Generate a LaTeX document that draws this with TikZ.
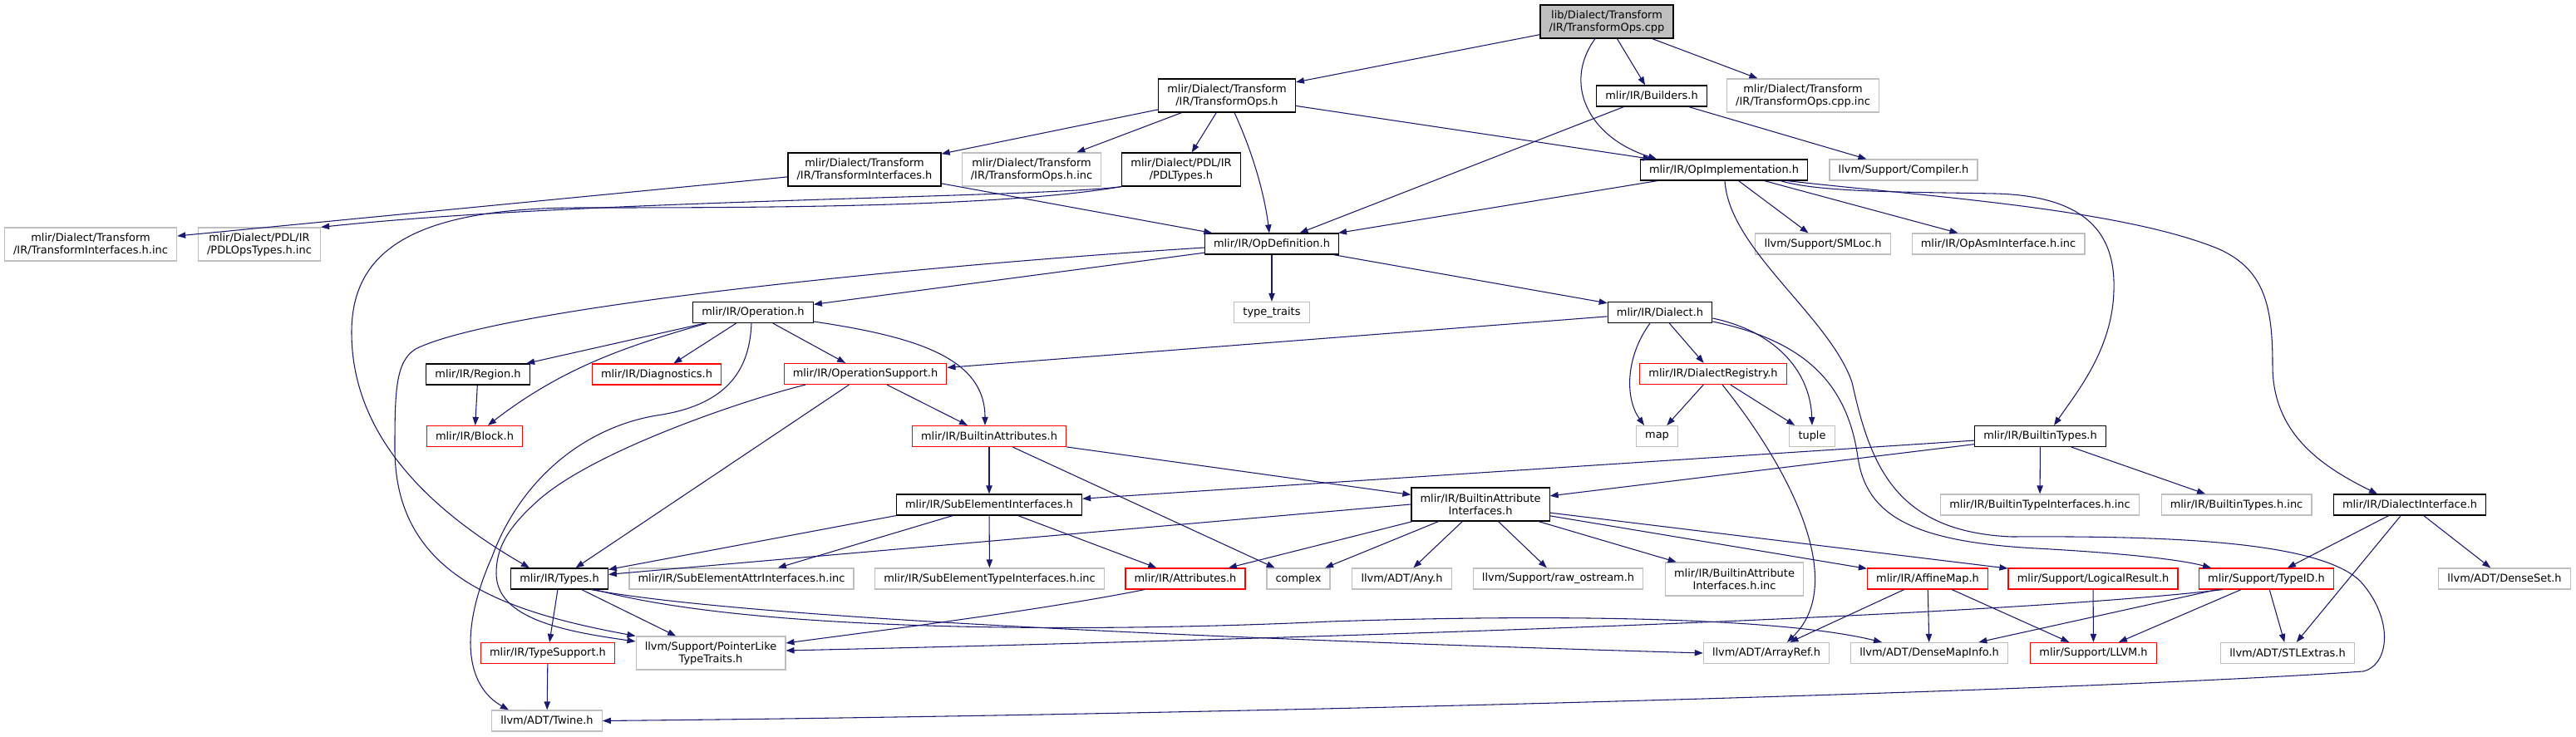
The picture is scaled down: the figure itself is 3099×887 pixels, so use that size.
\documentclass[tikz,border=0pt]{standalone}
\usepackage{fontspec}
\setmainfont{DejaVu Sans}
\usetikzlibrary{arrows.meta}

\definecolor{edgeblue}{HTML}{191970}
\definecolor{extgray}{HTML}{BFBFBF}
\definecolor{cutred}{HTML}{FF0000}

\begin{document}
\begin{tikzpicture}[x=0.75pt,y=-0.75pt,
    file/.style={rectangle,line width=0.9pt,align=center,inner xsep=8pt,inner ysep=4.5pt,
        minimum height=18.75pt,font={\fontsize{9.7}{11.25}\selectfont}},
    doc/.style={file,draw=black},
    ext/.style={file,draw=extgray},
    cut/.style={file,draw=cutred},
    tall/.style={minimum height=30pt},
    inc/.style={edgeblue,line width=0.8pt,-{Triangle[length=7.5pt,width=5.5pt]}}]
    \useasboundingbox (0,0) rectangle (3099,887);

    % source file and first level
    \node[doc,tall,fill=extgray] (cpp) at (1933,26) {lib/Dialect/Transform\\/IR/TransformOps.cpp};
    \node[doc,tall] (opsh) at (1476,115) {mlir/Dialect/Transform\\/IR/TransformOps.h};
    \node[doc] (builders) at (1987,115.5) {mlir/IR/Builders.h};
    \node[ext,tall] (cppinc) at (2169,115) {mlir/Dialect/Transform\\/IR/TransformOps.cpp.inc};

    % transform headers
    \node[doc,tall] (tiface) at (1040,204) {mlir/Dialect/Transform\\/IR/TransformInterfaces.h};
    \node[ext,tall] (opsinc) at (1241,204) {mlir/Dialect/Transform\\/IR/TransformOps.h.inc};
    \node[doc,tall] (pdltypes) at (1421,204) {mlir/Dialect/PDL/IR\\/PDLTypes.h};
    \node[doc] (opimpl) at (2074,204.5) {mlir/IR/OpImplementation.h};
    \node[ext] (compiler) at (2290,204.5) {llvm/Support/Compiler.h};

    \node[ext,tall] (tifaceinc) at (109,294) {mlir/Dialect/Transform\\/IR/TransformInterfaces.h.inc};
    \node[ext,tall] (pdlinc) at (312,294) {mlir/Dialect/PDL/IR\\/PDLOpsTypes.h.inc};
    \node[doc] (opdef) at (1530,293.5) {mlir/IR/OpDefinition.h};
    \node[ext] (smloc) at (2193,293.5) {llvm/Support/SMLoc.h};
    \node[ext] (asminc) at (2404,293.5) {mlir/IR/OpAsmInterface.h.inc};

    % core IR
    \node[doc] (operation) at (906,376) {mlir/IR/Operation.h};
    \node[ext] (typetraits) at (1530,376) {type\_traits};
    \node[doc] (dialect) at (1997,376) {mlir/IR/Dialect.h};

    \node[doc] (region) at (575,450.5) {mlir/IR/Region.h};
    \node[cut] (diag) at (790,450.5) {mlir/IR/Diagnostics.h};
    \node[cut] (opsupport) at (1041,450) {mlir/IR/OperationSupport.h};
    \node[cut] (registry) at (2061,450) {mlir/IR/DialectRegistry.h};

    \node[cut] (block) at (571,525) {mlir/IR/Block.h};
    \node[cut] (battrs) at (1190,525) {mlir/IR/BuiltinAttributes.h};
    \node[ext] (map) at (1993.5,525) {map};
    \node[ext] (tuple) at (2180,525) {tuple};
    \node[doc] (btypes) at (2454.5,525) {mlir/IR/BuiltinTypes.h};

    \node[doc] (subelem) at (1190,607.5) {mlir/IR/SubElementInterfaces.h};
    \node[doc,tall] (bai) at (1781,607) {mlir/IR/BuiltinAttribute\\Interfaces.h};
    \node[ext] (btiinc) at (2454,607.5) {mlir/IR/BuiltinTypeInterfaces.h.inc};
    \node[ext] (btinc) at (2690.5,607.5) {mlir/IR/BuiltinTypes.h.inc};
    \node[doc] (diface) at (2899,607.5) {mlir/IR/DialectInterface.h};

    % leaves
    \node[doc] (types) at (673,696.5) {mlir/IR/Types.h};
    \node[ext] (seattrinc) at (892,696.5) {mlir/IR/SubElementAttrInterfaces.h.inc};
    \node[ext] (setypeinc) at (1190.5,696.5) {mlir/IR/SubElementTypeInterfaces.h.inc};
    \node[cut] (attrs) at (1426,696.5) {mlir/IR/Attributes.h};
    \node[ext] (complex) at (1562,696.5) {complex};
    \node[ext] (any) at (1686.5,696.5) {llvm/ADT/Any.h};
    \node[ext] (ostream) at (1874.5,696.5) {llvm/Support/raw\_ostream.h};
    \node[ext,tall] (baiinc) at (2086.5,697) {mlir/IR/BuiltinAttribute\\Interfaces.h.inc};
    \node[cut] (affine) at (2319,696.5) {mlir/IR/AffineMap.h};
    \node[cut] (logical) at (2518,696.5) {mlir/Support/LogicalResult.h};
    \node[cut] (typeid) at (2726.5,696.5) {mlir/Support/TypeID.h};
    \node[ext] (denseset) at (3013,696.5) {llvm/ADT/DenseSet.h};

    \node[cut] (typesupport) at (659,786) {mlir/IR/TypeSupport.h};
    \node[ext,tall] (ptrlike) at (855,786) {llvm/Support/PointerLike\\TypeTraits.h};
    \node[ext] (arrayref) at (2125,786) {llvm/ADT/ArrayRef.h};
    \node[ext] (densemap) at (2321,786) {llvm/ADT/DenseMapInfo.h};
    \node[cut] (llvm) at (2518.5,786) {mlir/Support/LLVM.h};
    \node[ext] (stlextras) at (2752,786) {llvm/ADT/STLExtras.h};

    \node[ext] (twine) at (658,867.5) {llvm/ADT/Twine.h};

    % TransformOps.cpp
    \draw[inc] (cpp) -- (opsh);
    \draw[inc] (cpp) -- (builders);
    \draw[inc] (cpp) -- (cppinc);
    \draw[inc] (cpp.south -| 1919,0) .. controls (1880,100) and (1910,165) .. (opimpl.north -| 1993,0);

    % TransformOps.h
    \draw[inc] (opsh) -- (tiface);
    \draw[inc] (opsh) -- (opsinc);
    \draw[inc] (opsh) -- (pdltypes);
    \draw[inc] (opsh) -- (opimpl);
    \draw[inc] (opsh.south -| 1485,0) .. controls (1510,190) and (1522,240) .. (opdef.north -| 1527,0);

    % Builders.h
    \draw[inc] (builders) -- (opdef);
    \draw[inc] (builders) -- (compiler);

    % TransformInterfaces.h, PDLTypes.h
    \draw[inc] (tiface) -- (tifaceinc);
    \draw[inc] (tiface) -- (opdef);
    \draw[inc] (pdltypes.south west) .. controls (1250,238) and (700,240) .. (pdlinc.north east);
    \draw[inc] (pdltypes.south west) .. controls (1200,250) and (900,250) .. (700,250)
        .. controls (500,250) and (423,300) .. (423,400)
        .. controls (423,520) and (510,610) .. (types.north -| 637,0);

    % OpImplementation.h
    \draw[inc] (opimpl) -- (opdef);
    \draw[inc] (opimpl) -- (smloc);
    \draw[inc] (opimpl) -- (asminc);
    \draw[inc] (opimpl.south -| 2142,0) .. controls (2190,232) and (2300,231) .. (2400,233)
        .. controls (2520,236) and (2545,290) .. (2543,350)
        .. controls (2541,420) and (2500,470) .. (btypes.north -| 2471,0);
    \draw[inc] (opimpl.south -| 2150,0) .. controls (2300,235) and (2550,250) .. (2670,300)
        .. controls (2725,325) and (2734,370) .. (2734,440)
        .. controls (2734,520) and (2790,560) .. (diface.north -| 2860,0);
    \draw[inc] (opimpl.south -| 2075,0) .. controls (2080,300) and (2200,380) .. (2228,460)
        .. controls (2250,560) and (2280,640) .. (2420,646)
        .. controls (2600,645) and (2790,650) .. (2840,700)
        .. controls (2880,745) and (2875,800) .. (2843,808)
        .. controls (2500,832) and (1500,860) .. (twine.east);

    % OpDefinition.h
    \draw[inc] (opdef) -- (operation);
    \draw[inc] (opdef) -- (typetraits);
    \draw[inc] (opdef) -- (dialect);
    \draw[inc] (opdef.west |- 0,298) .. controls (1100,320) and (600,370) .. (500,420)
        .. controls (476,435) and (475,470) .. (475,540)
        .. controls (475,690) and (600,735) .. (ptrlike.north west);

    % Operation.h
    \draw[inc] (operation) -- (region);
    \draw[inc] (operation) -- (diag);
    \draw[inc] (operation) -- (opsupport);
    \draw[inc] (operation.south -| 850,0) .. controls (760,415) and (680,440) .. (block.north -| 587,0);
    \draw[inc] (operation.east |- 0,387) .. controls (1100,405) and (1185,430) .. (battrs.north -| 1185,0);
    \draw[inc] (operation.south -| 904,0) .. controls (902,440) and (880,487) .. (790,500)
        .. controls (700,515) and (625,580) .. (592,670)
        .. controls (552,760) and (560,825) .. (twine.north -| 612,0);
    \draw[inc] (region) -- (block);

    % Dialect.h
    \draw[inc] (dialect) -- (opsupport);
    \draw[inc] (dialect) -- (registry);
    \draw[inc] (dialect.south -| 1985,0) .. controls (1955,430) and (1955,480) .. (map.north -| 1978,0);
    \draw[inc] (dialect.east |- 0,383) .. controls (2140,400) and (2178,450) .. (tuple.north);
    \draw[inc] (dialect.east |- 0,387) .. controls (2170,410) and (2222,460) .. (2235,550)
        .. controls (2245,620) and (2300,652) .. (2450,660)
        .. controls (2560,666) and (2625,674) .. (typeid.north -| 2660,0);
    \draw[inc] (registry) -- (map);
    \draw[inc] (registry) -- (tuple);
    \draw[inc] (registry.south -| 2072,0) .. controls (2150,560) and (2225,700) .. (arrayref.north -| 2150,0);

    % OperationSupport.h
    \draw[inc] (opsupport) -- (battrs);
    \draw[inc] (opsupport) -- (types);
    \draw[inc] (opsupport.south -| 969,0) .. controls (900,480) and (720,540) .. (650,600)
        .. controls (610,635) and (597,660) .. (597,690)
        .. controls (597,745) and (680,760) .. (ptrlike.west |- 0,772);

    % BuiltinAttributes.h, BuiltinTypes.h
    \draw[inc] (battrs) -- (subelem);
    \draw[inc] (battrs) -- (complex);
    \draw[inc] (battrs) -- (bai);
    \draw[inc] (btypes) -- (subelem);
    \draw[inc] (btypes) -- (bai);
    \draw[inc] (btypes) -- (btiinc);
    \draw[inc] (btypes) -- (btinc);

    % SubElementInterfaces.h
    \draw[inc] (subelem.south west) -- (types);
    \draw[inc] (subelem) -- (seattrinc);
    \draw[inc] (subelem) -- (setypeinc);
    \draw[inc] (subelem) -- (attrs);

    % BuiltinAttributeInterfaces.h
    \draw[inc] (bai.west) -- (types);
    \draw[inc] (bai) -- (attrs);
    \draw[inc] (bai) -- (complex);
    \draw[inc] (bai) -- (any);
    \draw[inc] (bai) -- (ostream);
    \draw[inc] (bai) -- (baiinc);
    \draw[inc] (bai) -- (affine);
    \draw[inc] (bai) -- (logical);

    % Types.h, Attributes.h
    \draw[inc] (types) -- (typesupport);
    \draw[inc] (types) -- (ptrlike);
    \draw[inc] (types.south -| 711,0) .. controls (900,745) and (1500,770) .. (arrayref.west);
    \draw[inc] (types.south -| 716,0) .. controls (900,760) and (1300,762) .. (1600,748)
        .. controls (1900,738) and (2150,745) .. (densemap.north -| 2264,0);
    \draw[inc] (typesupport) -- (twine);
    \draw[inc] (attrs.south -| 1377,0) .. controls (1250,735) and (1050,760) .. (ptrlike.east |- 0,774);

    % AffineMap.h, LogicalResult.h, TypeID.h, DialectInterface.h
    \draw[inc] (affine) -- (arrayref);
    \draw[inc] (affine) -- (densemap);
    \draw[inc] (affine) -- (llvm);
    \draw[inc] (logical) -- (llvm);
    \draw[inc] (typeid) -- (llvm);
    \draw[inc] (typeid) -- (stlextras);
    \draw[inc] (typeid) -- (densemap);
    \draw[inc] (typeid.south -| 2674,0) .. controls (2400,742) and (1600,768) .. (ptrlike.east |- 0,783);
    \draw[inc] (diface) -- (typeid);
    \draw[inc] (diface) -- (stlextras);
    \draw[inc] (diface) -- (denseset);
\end{tikzpicture}
\end{document}
